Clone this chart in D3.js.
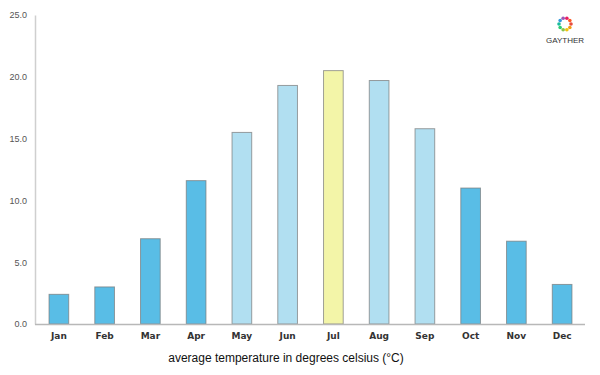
<!DOCTYPE html>
<html>
<head>
<meta charset="utf-8">
<script src="https://cdn.jsdelivr.net/npm/d3@7"></script>
<style>
  body { margin: 0; background: #fff; }
  svg { display: block; }
</style>
</head>
<body>
<svg id="chart" width="600" height="375"></svg>
<script>
// data
const months = ['Jan', 'Feb', 'Mar', 'Apr', 'May', 'Jun', 'Jul', 'Aug', 'Sep', 'Oct', 'Nov', 'Dec'];
const temps = [2.4, 3.0, 6.9, 11.6, 15.5, 19.3, 20.5, 19.7, 15.8, 11.0, 6.7, 3.2];
const seasons = ['cold', 'cold', 'cold', 'cold', 'warm', 'warm', 'hot', 'warm', 'warm', 'cold', 'cold', 'cold'];
const yTicks = [0, 5, 10, 15, 20, 25];

const fills = { cold: '#59bde6', warm: '#b1dff1', hot: '#f3f5a8' };

const svg = d3.select('#chart');
const x = d3.scaleBand()
  .domain(months)
  .range([36, 585])
  .paddingInner(0.57)
  .paddingOuter(0.285);
const y = d3.scaleLinear().domain([0, 25]).range([324, 15]);

// y axis
const yAxis = svg.append('g')
  .attr('transform', 'translate(35,0)')
  .call(d3.axisLeft(y).tickValues(yTicks).tickFormat(d3.format('.1f')).tickSize(0).tickPadding(8));
yAxis.select('.domain').attr('stroke', '#cfcfcf').attr('stroke-width', 1.5);
yAxis.selectAll('text')
  .attr('font-family', 'Liberation Sans, Arial, sans-serif')
  .attr('font-size', 9)
  .attr('fill', '#555');

// bars
svg.append('g')
  .selectAll('rect')
  .data(months)
  .join('rect')
  .attr('x', d => x(d))
  .attr('width', x.bandwidth())
  .attr('y', (d, i) => y(temps[i]))
  .attr('height', (d, i) => y(0) - y(temps[i]))
  .attr('fill', (d, i) => fills[seasons[i]])
  .attr('stroke', 'rgba(120,120,120,0.7)')
  .attr('stroke-width', 1);

// x axis
const xAxis = svg.append('g')
  .attr('transform', 'translate(0,324)')
  .call(d3.axisBottom(x).tickSize(0).tickPadding(9).tickSizeOuter(0));
xAxis.select('.domain').attr('stroke', '#b8b8b8').attr('stroke-width', 1.5).attr('d', 'M35,0.5H585');
xAxis.selectAll('text')
  .attr('font-family', 'DejaVu Sans, sans-serif')
  .attr('font-size', 9)
  .attr('font-weight', 'bold')
  .attr('fill', '#333');

// axis title
svg.append('text')
  .attr('x', 286)
  .attr('y', 362)
  .attr('text-anchor', 'middle')
  .attr('font-family', 'Liberation Sans, Arial, sans-serif')
  .attr('font-size', 12)
  .attr('fill', '#111')
  .text('average temperature in degrees celsius (°C)');

// logo
const logo = svg.append('g').attr('transform', 'translate(565,24)');
const logoColors = ['#e84c3d', '#f39c12', '#f1c40f', '#8bc34a', '#2ecc71', '#1abc9c', '#3498db', '#9b59b6', '#e91e63', '#ff5722'];
logo.selectAll('circle')
  .data(logoColors)
  .join('circle')
  .attr('cx', (d, i) => 6 * Math.cos(i / logoColors.length * 2 * Math.PI))
  .attr('cy', (d, i) => 6 * Math.sin(i / logoColors.length * 2 * Math.PI))
  .attr('r', 1.8)
  .attr('fill', d => d);
logo.append('text')
  .attr('y', 19)
  .attr('text-anchor', 'middle')
  .attr('font-family', 'Liberation Sans, Arial, sans-serif')
  .attr('font-size', 8)
  .attr('fill', '#333')
  .text('GAYTHER');
</script>
</body>
</html>
